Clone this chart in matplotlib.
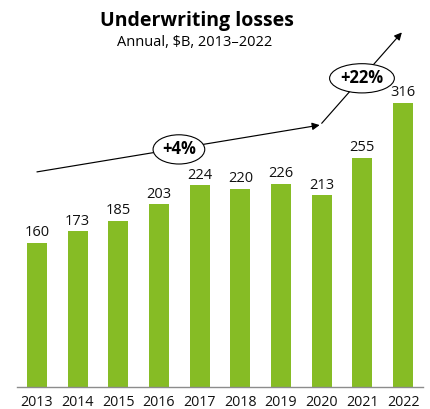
import matplotlib
matplotlib.use("agg")
import matplotlib.pyplot as plt
import numpy as np

plt.rcParams["font.family"] = ["Open Sans", "DejaVu Sans"]

years = ["2013", "2014", "2015", "2016", "2017", "2018", "2019", "2020", "2021", "2022"]
losses = [160, 173, 185, 203, 224, 220, 226, 213, 255, 316]
growth_labels = ["+4%", "+22%"]

GREEN = "#86BC25"

fig = plt.figure(figsize=(4.30, 4.09), dpi=100)
ax = fig.add_axes([17 / 430, 22 / 409, 406 / 430, 387 / 409])

x = np.arange(len(years))
ax.bar(x, losses, width=0.49, color=GREEN, zorder=2)

for xi, v in zip(x, losses):
    ax.annotate(f"{v}", (xi, v), xytext=(0, 2), textcoords="offset points",
                ha="center", va="bottom", fontsize=10.5, color="#111111")

ax.set_xlim(-0.49, 9.49)
ax.set_ylim(0, 430)
ax.set_xticks(x)
ax.set_xticklabels(years, fontsize=10.3, color="#111111")
ax.tick_params(axis="x", length=0, pad=6)
ax.set_yticks([])
for side in ["top", "right", "left"]:
    ax.spines[side].set_visible(False)
ax.spines["bottom"].set_color("#8c8c8c")
ax.spines["bottom"].set_linewidth(1.0)

# trend arrows: slow growth to 2020, then the jump to 2022
arrow_kw = dict(arrowstyle="-|>", color="black", lw=0.85, mutation_scale=11,
                shrinkA=0, shrinkB=0)
ax.annotate("", xy=(6.95, 291), xytext=(0, 239), arrowprops=arrow_kw, zorder=3)
ax.annotate("", xy=(8.97, 394), xytext=(7.0, 293), arrowprops=arrow_kw, zorder=3)

ell_kw = dict(boxstyle="ellipse,pad=0.08", fc="white", ec="black", lw=0.8)
ax.text(3.49, 264, growth_labels[0], ha="center", va="center", fontsize=12,
        fontweight="bold", bbox=ell_kw, zorder=4)
ax.text(7.99, 343, growth_labels[1], ha="center", va="center", fontsize=12,
        fontweight="bold", bbox=ell_kw, zorder=4)

fig.text(197 / 430, 1 - 21 / 409, "Underwriting losses", ha="center", va="center",
         fontsize=14, fontweight="bold")
fig.text(195 / 430, 1 - 42 / 409, "Annual, $B, 2013\u20132022", ha="center",
         va="center", fontsize=10.5)

fig.savefig("out.png", dpi=100)
